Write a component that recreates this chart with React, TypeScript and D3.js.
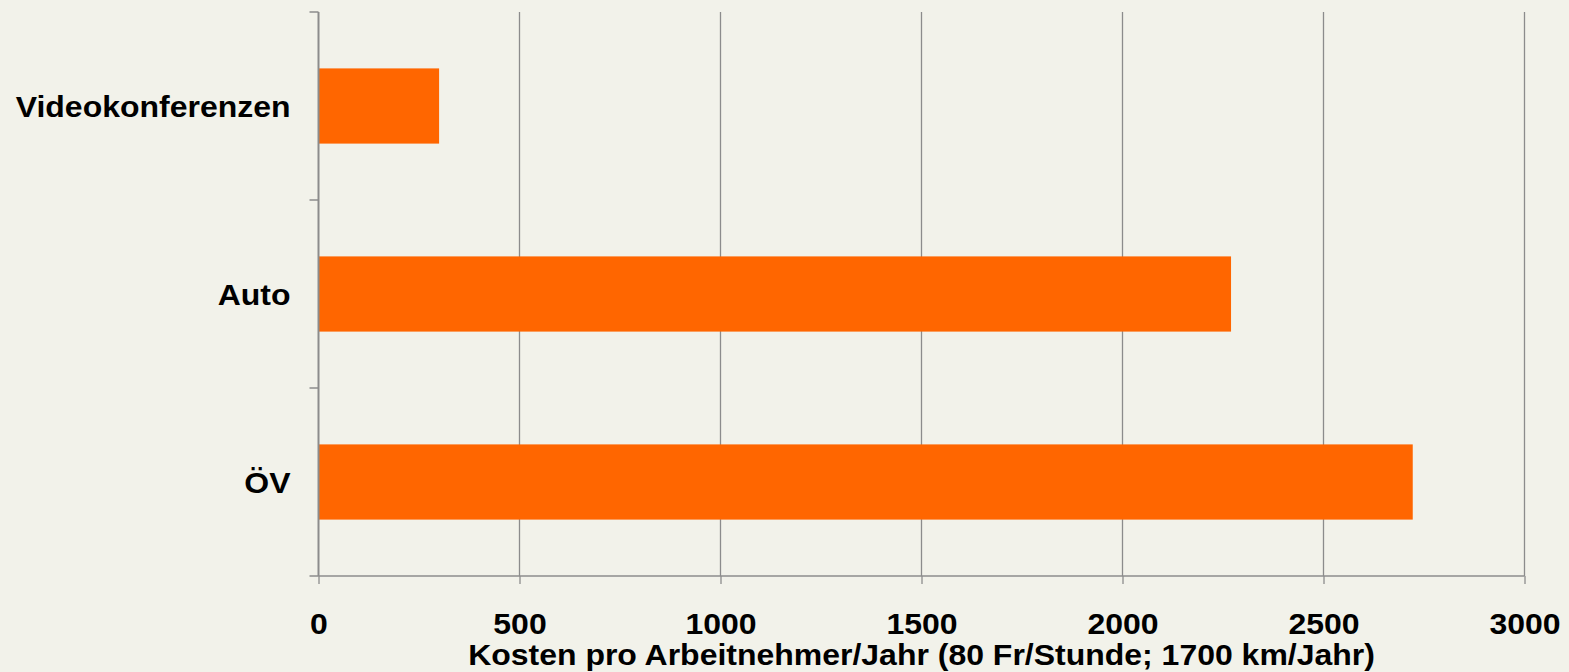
import { useEffect, useRef } from "react";
import * as d3 from "d3";

const categories = ["Videokonferenzen", "Auto", "ÖV"];
const costs = [300, 2270, 2722];
const xTicks = [0, 500, 1000, 1500, 2000, 2500, 3000];
const xTitle = "Kosten pro Arbeitnehmer/Jahr (80 Fr/Stunde; 1700 km/Jahr)";

export default function App() {
  const svgRef = useRef<SVGSVGElement | null>(null);

  useEffect(() => {
    if (!svgRef.current) return;
    const W = 1569;
    const H = 672;
    const margin = { top: 12, right: 44.5, bottom: 96, left: 318.5 };
    const innerW = W - margin.left - margin.right;
    const innerH = H - margin.top - margin.bottom;

    const svg = d3.select(svgRef.current);
    svg.selectAll("*").remove();
    svg.attr("width", W).attr("height", H);

    svg.append("rect").attr("width", W).attr("height", H).attr("fill", "#f2f2ea");

    const g = svg.append("g").attr("transform", `translate(${margin.left},${margin.top})`);

    const x = d3.scaleLinear().domain([0, 3000]).range([0, innerW]);
    const y = d3.scaleBand().domain(categories).range([0, innerH]).paddingInner(0.6).paddingOuter(0.3);
    const band = d3.scaleBand().domain(categories).range([0, innerH]);

    const font = "'Liberation Sans', Arial, sans-serif";
    const grey = "#8c8c8c";
    const fs = 30;
    const sx = 1.066; // labels in the original are a little wider

    // vertical grid lines
    g.append("g")
      .selectAll("line")
      .data(xTicks.slice(1))
      .join("line")
      .attr("x1", (d) => x(d))
      .attr("x2", (d) => x(d))
      .attr("y1", 0)
      .attr("y2", innerH)
      .attr("stroke", grey)
      .attr("stroke-width", 1.3);

    // bars
    g.selectAll(".bar")
      .data(categories)
      .join("rect")
      .attr("class", "bar")
      .attr("x", 0)
      .attr("y", (d) => y(d)!)
      .attr("height", y.bandwidth())
      .attr("width", (d, i) => x(costs[i]))
      .attr("fill", "#ff6600");

    // x axis
    g.append("g")
      .attr("transform", `translate(0,${innerH})`)
      .call(d3.axisBottom(x).tickValues(xTicks).tickSize(8).tickFormat(d3.format("d")))
      .call((a) => a.select(".domain").attr("stroke", grey).attr("stroke-width", 1.5).attr("d", `M0,0H${innerW}`))
      .call((a) => a.selectAll("line").attr("stroke", grey).attr("stroke-width", 1.3))
      .call((a) =>
        a.selectAll("text")
          .attr("y", 0)
          .attr("dy", 0)
          .attr("transform", `translate(0,58) scale(${sx},1)`)
          .attr("font-family", font)
          .attr("font-size", fs)
          .attr("font-weight", "bold")
          .attr("fill", "#000")
      );

    // y axis
    const bounds = [0, ...categories.map((c) => band(c)! + band.bandwidth())];
    g.append("line")
      .attr("x1", 0).attr("x2", 0).attr("y1", 0).attr("y2", innerH)
      .attr("stroke", grey).attr("stroke-width", 2);
    g.append("g")
      .selectAll("line")
      .data(bounds)
      .join("line")
      .attr("x1", -9)
      .attr("x2", 0)
      .attr("y1", (d) => d)
      .attr("y2", (d) => d)
      .attr("stroke", grey)
      .attr("stroke-width", 1.5);

    g.append("g")
      .selectAll("text")
      .data(categories)
      .join("text")
      .attr("transform", (d) => `translate(-28,${band(d)! + band.bandwidth() / 2}) scale(${sx},1)`)
      .attr("dy", "0.36em")
      .attr("text-anchor", "end")
      .attr("font-family", font)
      .attr("font-size", fs)
      .attr("font-weight", "bold")
      .attr("fill", "#000")
      .text((d) => d);

    svg.append("text")
      .attr("transform", `translate(${margin.left + innerW / 2},665) scale(${sx},1)`)
      .attr("text-anchor", "middle")
      .attr("font-family", font)
      .attr("font-size", fs)
      .attr("font-weight", "bold")
      .attr("fill", "#000")
      .text(xTitle);
  }, []);

  return (
    <div style={{ position: "absolute", left: 0, top: 0 }}>
      <svg ref={svgRef} style={{ display: "block" }} />
    </div>
  );
}
